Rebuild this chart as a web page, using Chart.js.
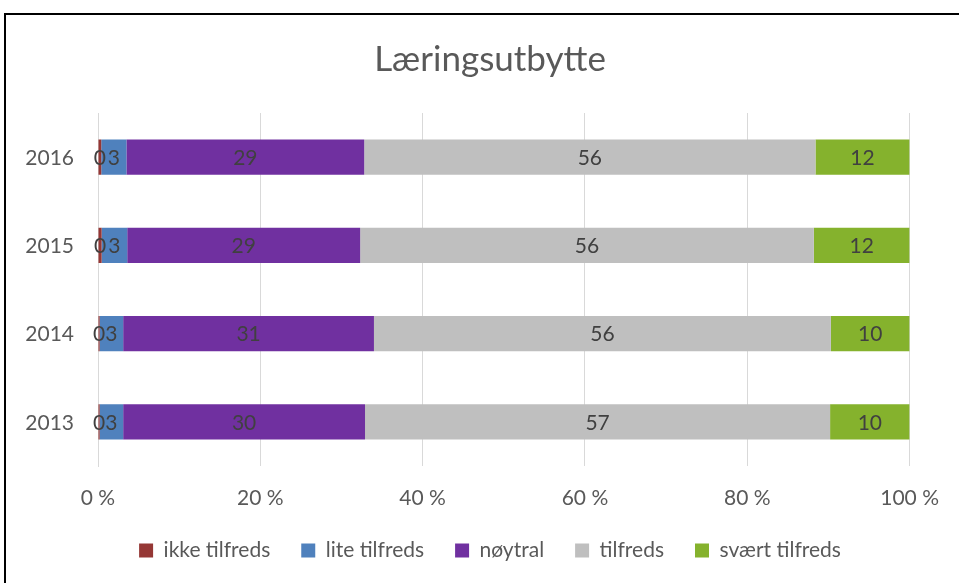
<!DOCTYPE html>
<html>
<head>
<meta charset="utf-8">
<script src="https://cdn.jsdelivr.net/npm/chart.js@4"></script>
<style>
  body { margin: 0; background: #fff; overflow: hidden; }
  #frame { position: absolute; left: 4px; top: 13px; width: 1000px; height: 600px;
           border-left: 2px solid #000; border-top: 2px solid #000; }
  #wrap { position: absolute; left: 0; top: 0; width: 959px; height: 583px; }
</style>
</head>
<body>
<div id="frame"></div>
<div id="wrap"><canvas id="chart"></canvas></div>
<script>
const years = ["2016", "2015", "2014", "2013"];
const ikkeTilfreds = [0.4, 0.45, 0.2, 0.2];
const liteTilfreds = [3.1, 3.15, 2.9, 2.9];
const noytral = [29.3, 28.7, 30.9, 29.8];
const tilfreds = [55.6, 55.9, 56.3, 57.3];
const svaertTilfreds = [11.6, 11.8, 9.7, 9.8];
const xTicks = [0, 20, 40, 60, 80, 100];

const font = "Lato";
const textColor = "#595959";

// value in the middle of each bar piece, plus the year labels left of the axis
// (the y scale is kept narrow so title/legend centre like the original)
const valueLabels = {
  id: "valueLabels",
  afterDatasetsDraw(chart) {
    const ctx = chart.ctx;
    ctx.save();
    ctx.font = "21px " + font;
    ctx.fillStyle = "#404040";
    ctx.textAlign = "center";
    ctx.textBaseline = "middle";
    chart.data.datasets.forEach((ds, i) => {
      chart.getDatasetMeta(i).data.forEach((bar, j) => {
        ctx.fillText(Math.round(ds.data[j]), (bar.x + bar.base) / 2, bar.y + 1);
      });
    });
    const y = chart.scales.y;
    ctx.fillStyle = textColor;
    ctx.textAlign = "right";
    chart.data.labels.forEach((lab, i) => {
      ctx.fillText(lab, chart.chartArea.left - 24, y.getPixelForTick(i) + 1);
    });
    ctx.restore();
  }
};

const datasets = [
  { label: "ikke tilfreds", data: ikkeTilfreds, backgroundColor: "#953735" },
  { label: "lite tilfreds", data: liteTilfreds, backgroundColor: "#4f81bd" },
  { label: "nøytral", data: noytral, backgroundColor: "#7030a0" },
  { label: "tilfreds", data: tilfreds, backgroundColor: "#bfbfbf" },
  { label: "svært tilfreds", data: svaertTilfreds, backgroundColor: "#85b22d" }
];

new Chart(document.getElementById("chart"), {
  type: "bar",
  data: { labels: years, datasets },
  options: {
    indexAxis: "y",
    responsive: true,
    maintainAspectRatio: false,
    animation: false,
    categoryPercentage: 1,
    barPercentage: 0.4,
    layout: { padding: { left: 70, right: 49, top: 0, bottom: 12 } },
    plugins: {
      title: {
        display: true,
        text: "Læringsutbytte",
        color: textColor,
        font: { family: font, size: 35, weight: "normal" },
        padding: { top: 39, bottom: 32 }
      },
      legend: {
        position: "bottom",
        labels: {
          boxWidth: 14,
          boxHeight: 14,
          padding: 31,
          color: textColor,
          font: { family: font, size: 21 }
        }
      },
      tooltip: { enabled: false }
    },
    scales: {
      x: {
        stacked: true,
        min: 0,
        max: 100,
        afterBuildTicks: (s) => { s.ticks = xTicks.map(v => ({ value: v })); },
        afterFit: (s) => { s.height = 43; },
        grid: { color: "#d9d9d9", drawTicks: false },
        border: { display: false },
        ticks: {
          padding: 20,
          color: textColor,
          font: { family: font, size: 21 },
          callback: (v) => v + " %"
        }
      },
      y: {
        stacked: true,
        afterFit: (s) => { s.width = 28; },
        grid: { display: false, drawTicks: false },
        border: { color: "#d9d9d9" },
        ticks: { display: false }
      }
    }
  },
  plugins: [valueLabels]
});
</script>
</body>
</html>
